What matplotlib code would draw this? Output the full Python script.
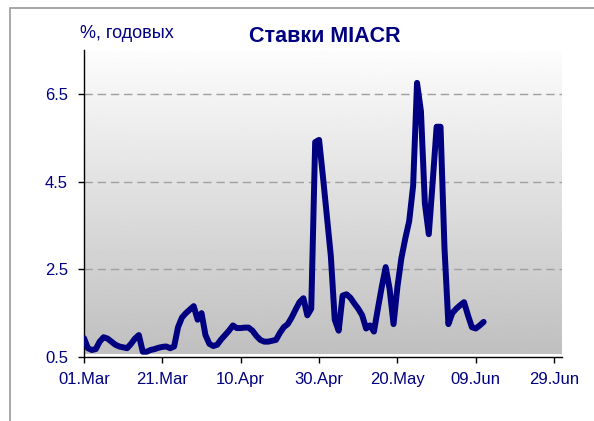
import numpy as np
import pandas as pd
import matplotlib
matplotlib.use("Agg")
import matplotlib.pyplot as plt
import matplotlib.dates as mdates
from matplotlib.patches import Rectangle

plt.rcParams['font.family'] = ['Liberation Sans', 'DejaVu Sans']

# daily MIACR rates, % per annum, starting 01.Mar
start_date = "2004-03-01"
rates = [
    0.93, 0.70, 0.66, 0.68, 0.85, 0.95, 0.92, 0.85, 0.78, 0.74,
    0.72, 0.70, 0.80, 0.92, 1.00, 0.62, 0.62, 0.66, 0.68, 0.71,
    0.73, 0.74, 0.70, 0.74, 1.18, 1.40, 1.50, 1.58, 1.66, 1.35,
    1.50, 1.00, 0.80, 0.75, 0.78, 0.90, 1.00, 1.10, 1.22, 1.16,
    1.16, 1.17, 1.17, 1.10, 0.98, 0.89, 0.85, 0.85, 0.87, 0.89,
    1.05, 1.18, 1.25, 1.40, 1.58, 1.75, 1.84, 1.45, 1.60, 5.40,
    5.45, 4.60, 3.70, 2.80, 1.35, 1.10, 1.90, 1.93, 1.85, 1.72,
    1.60, 1.45, 1.15, 1.22, 1.08, 1.60, 2.10, 2.55, 2.05, 1.25,
    2.10, 2.75, 3.20, 3.60, 4.40, 6.75, 6.10, 4.00, 3.30, 4.50,
    5.75, 5.75, 3.00, 1.25, 1.50, 1.60, 1.68, 1.75, 1.45, 1.18,
    1.15, 1.22, 1.30,
]
dates = pd.date_range(start_date, periods=len(rates), freq="D")

y_ticks = [0.5, 2.5, 4.5, 6.5]
x_ticks = pd.date_range(start_date, periods=7, freq="20D")
x_end = pd.Timestamp("2004-07-01")

navy = "#000080"

fig = plt.figure(figsize=(5.94, 4.21), dpi=100)

# outer chart frame (only left/top edges visible in the crop)
fig.patches.append(Rectangle((10 / 594, -0.05), 1.2, 1 - 8 / 421 + 0.05,
                             transform=fig.transFigure, fill=False,
                             edgecolor="#9a9a9a", linewidth=1.2))

ax = fig.add_axes([84 / 594, (421 - 357) / 421, (562 - 84) / 594, (357 - 50) / 421])

# grey gradient background
grad = np.linspace(0.99, 0.75, 256).reshape(-1, 1)
ax.imshow(grad, cmap="gray", vmin=0, vmax=1, aspect="auto",
          extent=[0, 0.998, 0.01, 1], transform=ax.transAxes, zorder=0)

for yv in y_ticks[1:]:
    ax.axhline(yv, color="#a0a0a0", linestyle=(0, (6, 3.5)), linewidth=1.0, zorder=1)

ax.plot(dates, rates, color=navy, linewidth=4.3, solid_joinstyle="round",
        solid_capstyle="round", zorder=3)

ax.set_xlim(pd.Timestamp(start_date), x_end)
ax.set_ylim(0.5, 7.5)
ax.set_yticks(y_ticks)
ax.set_yticklabels([f"{v:.1f}" for v in y_ticks])
ax.set_xticks(x_ticks)
ax.xaxis.set_major_formatter(mdates.DateFormatter("%d.%b"))

for s in ["top", "right"]:
    ax.spines[s].set_visible(False)
for s in ["left", "bottom"]:
    ax.spines[s].set_color("black")
    ax.spines[s].set_linewidth(1.0)

ax.tick_params(axis="both", direction="out", length=4.5, width=1.0, color="black",
               labelcolor=navy, labelsize=12)
ax.tick_params(axis="y", pad=7)
ax.tick_params(axis="x", pad=6)

fig.text(325 / 594, 1 - 36 / 421, "Ставки MIACR", ha="center", va="center",
         fontsize=15.5, fontweight="bold", color=navy)
fig.text(80 / 594, 1 - 33 / 421, "%, годовых", ha="left", va="center",
         fontsize=13, color=navy)

fig.savefig("out.png", dpi=100)
